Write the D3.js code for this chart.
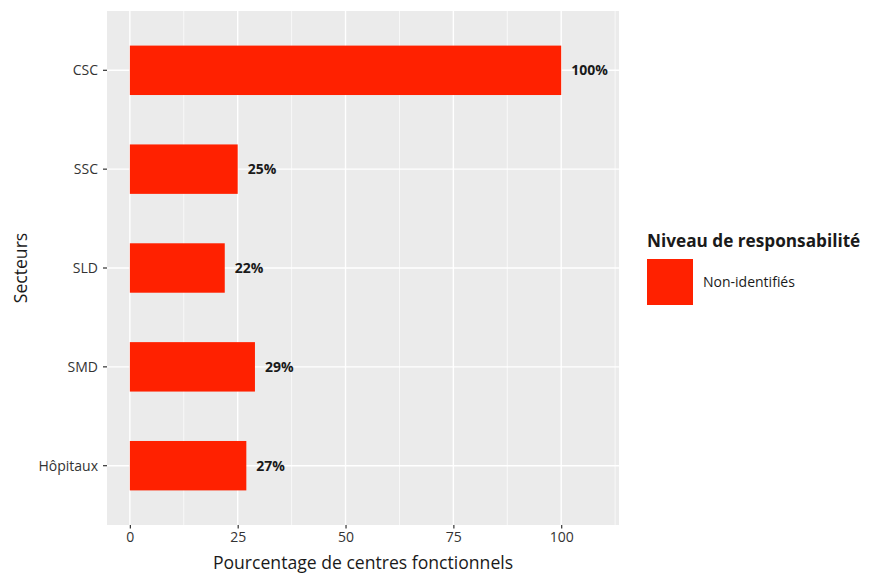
<!DOCTYPE html>
<html><head><meta charset="utf-8">
<script src="https://cdn.jsdelivr.net/npm/d3@7"></script>
<style>body{margin:0;background:#fff}svg{display:block}text{font-family:"Open Sans",Lato,sans-serif}</style>
</head><body><svg id="c" width="870" height="573"></svg>
<script>
const categories = ["CSC","SSC","SLD","SMD","Hôpitaux"];
const values = [100, 25, 22, 29, 27];
const valueLabels = ["100%","25%","22%","29%","27%"];
const xTicks = [0,25,50,75,100];
const xMinor = [12.5,37.5,62.5,87.5,112.5];
const legendLabel = "Non-identifiés";
const legendTitle = "Niveau de responsabilité";
const barColor = "#ff2100";

const svg = d3.select("#c");
const P = {l:107, r:619, t:11, b:525};
const x = d3.scaleLinear().domain([-5.3,113.4]).range([P.l,P.r]);
// ggplot discrete axis: expansion of 0.6 band on each side
const step = (P.b-P.t)/(categories.length-1+1.2);
const y = d3.scalePoint().domain(categories).range([P.t+0.6*step, P.b-0.6*step]);
const barH = step*0.5;

svg.append("rect").attr("x",P.l).attr("y",P.t).attr("width",P.r-P.l).attr("height",P.b-P.t).attr("fill","#ebebeb");
const g = svg.append("g");
g.selectAll(".minor").data(xMinor).join("line")
  .attr("x1",d=>x(d)).attr("x2",d=>x(d)).attr("y1",P.t).attr("y2",P.b)
  .attr("stroke","#fff").attr("stroke-width",0.7);
g.selectAll(".major").data(xTicks).join("line")
  .attr("x1",d=>x(d)).attr("x2",d=>x(d)).attr("y1",P.t).attr("y2",P.b)
  .attr("stroke","#fff").attr("stroke-width",1.4);
g.selectAll(".hmaj").data(categories).join("line")
  .attr("x1",P.l).attr("x2",P.r).attr("y1",d=>y(d)).attr("y2",d=>y(d))
  .attr("stroke","#fff").attr("stroke-width",1.4);

svg.selectAll(".bar").data(categories).join("rect")
  .attr("x",x(0)).attr("y",d=>y(d)-barH/2)
  .attr("width",(d,i)=>x(values[i])-x(0)).attr("height",barH).attr("fill",barColor);

svg.selectAll(".lbl").data(categories).join("text")
  .attr("x",(d,i)=>x(values[i])+10).attr("y",d=>y(d)).attr("dy","0.36em")
  .attr("font-size",14).attr("font-weight","bold").attr("fill","#1a1a1a")
  .text((d,i)=>valueLabels[i]);

// x axis
const xa = svg.append("g").attr("transform",`translate(0,${P.b})`)
  .call(d3.axisBottom(x).tickValues(xTicks).tickSize(3.5).tickPadding(4).tickFormat(d3.format("d")));
xa.select(".domain").remove();
xa.selectAll("line").attr("stroke","#333").attr("stroke-width",1.2);
xa.selectAll("text").attr("font-size",14).attr("fill","#333").attr("font-family","Open Sans");

// y axis
const ya = svg.append("g").attr("transform",`translate(${P.l},0)`);
ya.selectAll("line").data(categories).join("line")
  .attr("x1",-4).attr("x2",0).attr("y1",d=>y(d)).attr("y2",d=>y(d)).attr("stroke","#333").attr("stroke-width",1.2);
ya.selectAll("text").data(categories).join("text")
  .attr("x",-9).attr("y",d=>y(d)).attr("dy","0.36em").attr("text-anchor","end")
  .attr("font-size",14).attr("fill","#333").text(d=>d);

svg.append("text").attr("x",(P.l+P.r)/2).attr("y",569).attr("text-anchor","middle")
  .attr("font-size",17.6).attr("fill","#1a1a1a").text("Pourcentage de centres fonctionnels");
svg.append("text").attr("transform",`translate(27,${(P.t+P.b)/2}) rotate(-90)`).attr("text-anchor","middle")
  .attr("font-size",17.6).attr("fill","#1a1a1a").text("Secteurs");

// legend
svg.append("text").attr("x",647).attr("y",247).attr("font-size",17.2).attr("font-weight","bold").attr("fill","#1a1a1a").text(legendTitle);
svg.append("rect").attr("x",647).attr("y",259).attr("width",46).attr("height",46).attr("fill",barColor);
svg.append("text").attr("x",703).attr("y",282).attr("dy","0.36em").attr("font-size",14).attr("fill","#1a1a1a").text(legendLabel);
</script></body></html>
